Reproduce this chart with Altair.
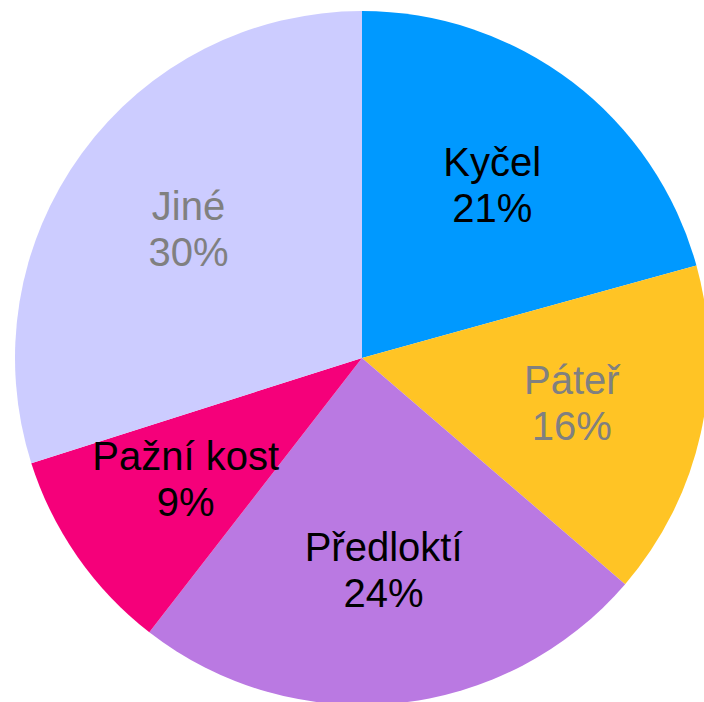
import altair as alt
import pandas as pd

categories = ["Kyčel", "Páteř", "Předloktí", "Pažní kost", "Jiné"]
values = [20.7, 15.6, 24.2, 9.6, 29.9]
pct_labels = ["21%", "16%", "24%", "9%", "30%"]
slice_colors = ["#0099FF", "#FFC425", "#BA79E2", "#F5007A", "#CCCCFF"]
label_colors = ["#000000", "#808080", "#000000", "#000000", "#808080"]

df = pd.DataFrame({
    "cat": categories,
    "val": values,
    "pct": pct_labels,
    "idx": list(range(len(categories))),
})
df["label"] = df["cat"] + "\n" + df["pct"]

base = alt.Chart(df).encode(
    theta=alt.Theta("val:Q", stack=True),
    order=alt.Order("idx:Q"),
    x=alt.value(362),
    y=alt.value(358),
)

arcs = base.mark_arc(outerRadius=347, stroke=None).encode(
    color=alt.Color("cat:N", scale=alt.Scale(domain=categories, range=slice_colors), legend=None)
)

texts = base.mark_text(
    radius=215, fontSize=40, font="Liberation Sans", lineBreak="\n", lineHeight=46,
    align="center", baseline="middle", dy=-23
).encode(
    text="label:N",
    color=alt.Color("cat:N", scale=alt.Scale(domain=categories, range=label_colors), legend=None),
)

chart = alt.layer(arcs, texts).resolve_scale(color="independent").properties(
    width=704, height=702, padding=0,
    autosize=alt.AutoSizeParams(type="fit", contains="padding"),
).configure_view(stroke=None)

chart.save("out.html", embed_options={"renderer": "svg", "actions": False})
